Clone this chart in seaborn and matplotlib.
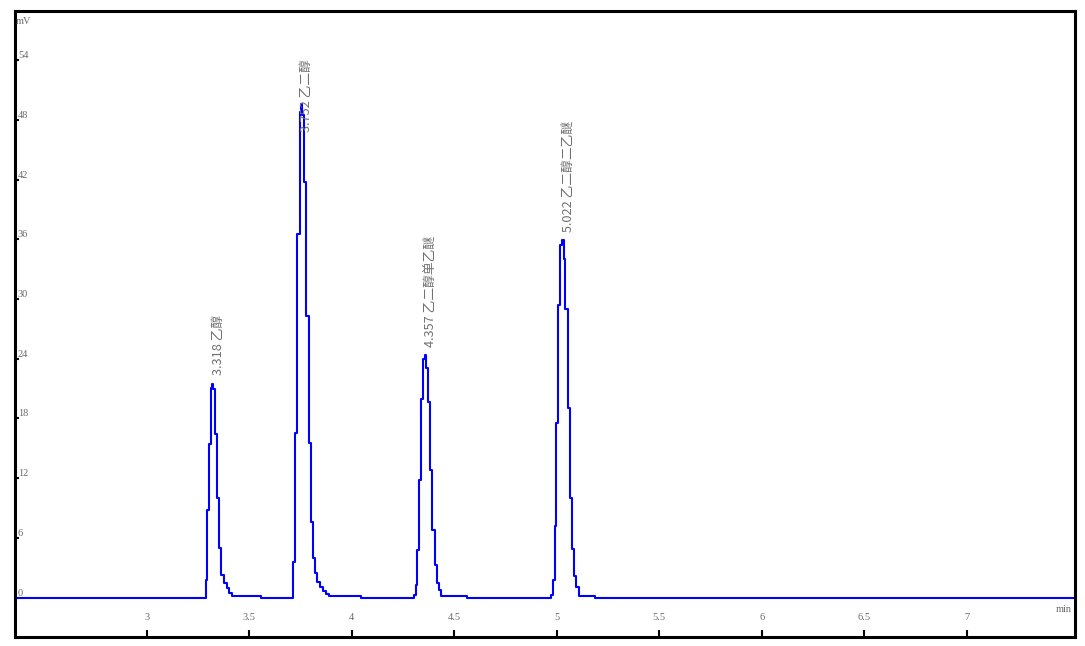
import matplotlib
matplotlib.use("Agg")
import matplotlib.pyplot as plt
import seaborn as sns
import pandas as pd

# ---------------- data ----------------
baseline_start = (2.356, 0.0)
baseline_end = (7.527, 0.0)

peak1_t = [3.290, 3.297, 3.305, 3.313, 3.318, 3.326, 3.336, 3.345, 3.353, 3.364, 3.376, 3.390, 3.400, 3.415, 3.556]
peak1_mv = [1.8, 8.8, 15.4, 21.1, 21.5, 21.0, 16.4, 10.0, 5.0, 2.3, 1.5, 1.0, 0.5, 0.2, 0.0]

peak2_t = [3.714, 3.725, 3.735, 3.746, 3.753, 3.760, 3.766, 3.776, 3.792, 3.802, 3.811, 3.821, 3.833, 3.844, 3.860, 3.877, 3.890, 4.044]
peak2_mv = [3.6, 16.5, 36.5, 48.8, 49.6, 48.5, 41.8, 28.3, 15.5, 7.6, 4.0, 2.5, 1.6, 1.1, 0.7, 0.4, 0.2, 0.0]

peak3_t = [4.304, 4.312, 4.320, 4.328, 4.337, 4.348, 4.358, 4.364, 4.372, 4.384, 4.394, 4.405, 4.416, 4.426, 4.438, 4.560]
peak3_mv = [0.3, 1.3, 4.8, 11.8, 20.0, 24.0, 24.4, 23.1, 19.6, 12.8, 6.8, 3.3, 1.5, 0.8, 0.2, 0.0]

peak4_t = [4.974, 4.982, 4.990, 4.998, 5.007, 5.018, 5.028, 5.034, 5.042, 5.054, 5.064, 5.075, 5.086, 5.096, 5.108, 5.185]
peak4_mv = [0.3, 1.8, 7.2, 17.5, 29.4, 35.4, 35.9, 34.0, 29.0, 19.0, 10.0, 4.9, 2.2, 1.1, 0.2, 0.0]

peak_labels = ["3.318 乙醇", "3.752 乙二醇", "4.357 乙二醇单乙醚", "5.022 乙二醇二乙醚"]
label_t = [3.351, 3.780, 4.385, 5.059]
label_mv = [22.4, 46.8, 25.2, 36.7]

x_ticks = [3, 3.5, 4, 4.5, 5, 5.5, 6, 6.5, 7]
x_tick_labels = ["3", "3.5", "4", "4.5", "5", "5.5", "6", "6.5", "7"]
y_ticks = [0, 6, 12, 18, 24, 30, 36, 42, 48, 54]
y_tick_labels = ["0", "6", "12", "18", "24", "30", "36", "42", "48", "54"]

# ---------------- build frame ----------------
t_all = [baseline_start[0]] + peak1_t + peak2_t + peak3_t + peak4_t + [baseline_end[0]]
mv_all = [baseline_start[1]] + peak1_mv + peak2_mv + peak3_mv + peak4_mv + [baseline_end[1]]
df = pd.DataFrame({"time": t_all, "mV": mv_all})

sns.set_theme(style="white")
plt.rcParams["font.family"] = ["Liberation Serif", "Noto Sans CJK SC", "DejaVu Sans"]

fig = plt.figure(figsize=(10.85, 6.46), dpi=100)
ax = fig.add_axes([14.5 / 1085, 9.0 / 646, 1060.5 / 1085, 626.5 / 646])

sns.lineplot(data=df, x="time", y="mV", ax=ax, estimator=None, sort=True,
             color="#0000FF", linewidth=1.5, drawstyle="steps-post")

ax.set_xlim(2.356, 7.527)
ax.set_ylim(-3.97, 59.0)
ax.set_xlabel("")
ax.set_ylabel("")

for sp in ax.spines.values():
    sp.set_visible(True)
    sp.set_color("black")
    sp.set_linewidth(2.2)

ax.set_xticks(x_ticks)
ax.set_xticklabels(x_tick_labels)
ax.set_yticks(y_ticks)
ax.set_yticklabels(y_tick_labels)

ax.tick_params(axis="x", bottom=True, direction="in", length=5, width=1.5,
               color="black", pad=-14.4, labelsize=7.5, labelcolor="#6a6a6a")
ax.tick_params(axis="y", left=True, direction="in", length=3, width=1.5,
               color="black", pad=-2.5, labelsize=7.5, labelcolor="#6a6a6a")
for lab in ax.get_xticklabels():
    lab.set_va("center")
for lab in ax.get_yticklabels():
    lab.set_ha("left")
    lab.set_va("bottom")

ax.text(0.0014, 0.983, "mV", transform=ax.transAxes, ha="left", va="center",
        fontsize=7.5, color="#6a6a6a")
ax.text(0.997, 0.044, "min", transform=ax.transAxes, ha="right", va="center",
        fontsize=7.5, color="#6a6a6a")

for txt, tx, ty in zip(peak_labels, label_t, label_mv):
    ax.text(tx, ty, txt, rotation=90, ha="center", va="bottom", fontsize=9.2,
            color="#707070", family=["Noto Sans CJK SC", "DejaVu Sans"])

fig.savefig("out.png", dpi=100)
